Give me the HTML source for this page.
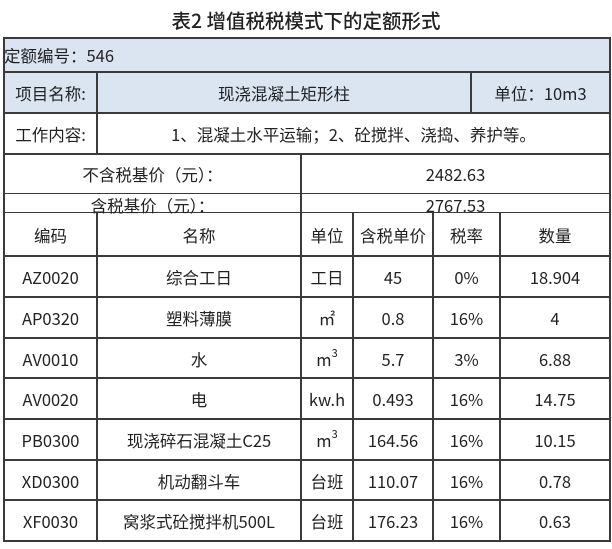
<!DOCTYPE html>
<html><head><meta charset="utf-8"><style>
body{margin:0;width:612px;height:549px;background:#fff;font-family:"Noto Sans CJK SC",sans-serif;color:#222;position:relative;overflow:hidden}
.t{position:absolute;top:6px;left:0;width:612px;text-align:center;font-size:19.5px;line-height:28px;font-weight:500}
.c{position:absolute;box-sizing:border-box;display:flex;align-items:center;justify-content:center;font-size:16.5px;line-height:20px;white-space:nowrap}
.l{position:absolute;background:#3a3a3a}
.s{font-size:11px;line-height:11px;position:relative;top:-6px}
</style></head><body>
<div class="t">表2 增值税税模式下的定额形式</div>
<div style="position:absolute;left:3px;top:37px;width:607px;height:75px;background:#dbe5f1"></div>
<div class="l" style="left:3px;top:37px;width:608px;height:2px"></div>
<div class="l" style="left:3px;top:71px;width:608px;height:2px"></div>
<div class="l" style="left:3px;top:112px;width:608px;height:2px"></div>
<div class="l" style="left:3px;top:153px;width:608px;height:2px"></div>
<div class="l" style="left:3px;top:193px;width:608px;height:1px"></div>
<div class="l" style="left:3px;top:212px;width:608px;height:1px"></div>
<div class="l" style="left:3px;top:255px;width:608px;height:2px"></div>
<div class="l" style="left:3px;top:296px;width:608px;height:2px"></div>
<div class="l" style="left:3px;top:337px;width:608px;height:2px"></div>
<div class="l" style="left:3px;top:377px;width:608px;height:2px"></div>
<div class="l" style="left:3px;top:418px;width:608px;height:2px"></div>
<div class="l" style="left:3px;top:459px;width:608px;height:2px"></div>
<div class="l" style="left:3px;top:499px;width:608px;height:2px"></div>
<div class="l" style="left:3px;top:540px;width:608px;height:2px"></div>
<div class="l" style="left:3px;top:37px;width:2px;height:505px"></div>
<div class="l" style="left:609px;top:37px;width:2px;height:505px"></div>
<div class="l" style="left:96px;top:71px;width:2px;height:82px"></div>
<div class="l" style="left:470px;top:71px;width:2px;height:41px"></div>
<div class="l" style="left:300px;top:153px;width:2px;height:389px"></div>
<div class="l" style="left:96px;top:212px;width:2px;height:330px"></div>
<div class="l" style="left:352px;top:212px;width:2px;height:330px"></div>
<div class="l" style="left:432px;top:212px;width:2px;height:330px"></div>
<div class="l" style="left:499px;top:212px;width:2px;height:330px"></div>
<div class="c" style="left:4px;top:38px;height:34px;justify-content:flex-start">定额编号：546</div>
<div class="c" style="left:4px;top:72px;width:93px;height:41px">项目名称:</div>
<div class="c" style="left:97px;top:72px;width:374px;height:41px">现浇混凝土矩形柱</div>
<div class="c" style="left:471px;top:72px;width:139px;height:41px">单位：10m3</div>
<div class="c" style="left:4px;top:113px;width:93px;height:41px">工作内容:</div>
<div class="c" style="left:97px;top:113px;width:513px;height:41px">1、混凝土水平运输；2、砼搅拌、浇捣、养护等。</div>
<div class="c" style="left:4px;top:154px;width:297px;height:40px">不含税基价（元）：</div>
<div class="c" style="left:301px;top:154px;width:309px;height:40px">2482.63</div>
<div class="c" style="left:4px;top:195px;width:297px;height:20px">含税基价（元）：</div>
<div class="c" style="left:301px;top:195px;width:309px;height:20px">2767.53</div>
<div class="c" style="left:4px;top:214px;width:93px;height:42px">编码</div>
<div class="c" style="left:97px;top:214px;width:204px;height:42px">名称</div>
<div class="c" style="left:301px;top:214px;width:52px;height:42px">单位</div>
<div class="c" style="left:353px;top:214px;width:80px;height:42px">含税单价</div>
<div class="c" style="left:433px;top:214px;width:67px;height:42px">税率</div>
<div class="c" style="left:500px;top:214px;width:110px;height:42px">数量</div>

<div class="c" style="left:4px;top:257px;width:93px;height:40px">AZ0020</div><div class="c" style="left:97px;top:257px;width:204px;height:40px">综合工日</div><div class="c" style="left:301px;top:257px;width:52px;height:40px">工日</div><div class="c" style="left:353px;top:257px;width:80px;height:40px">45</div><div class="c" style="left:433px;top:257px;width:67px;height:40px">0%</div><div class="c" style="left:500px;top:257px;width:110px;height:40px">18.904</div>
<div class="c" style="left:4px;top:298px;width:93px;height:40px">AP0320</div><div class="c" style="left:97px;top:298px;width:204px;height:40px">塑料薄膜</div><div class="c" style="left:301px;top:298px;width:52px;height:40px">㎡</div><div class="c" style="left:353px;top:298px;width:80px;height:40px">0.8</div><div class="c" style="left:433px;top:298px;width:67px;height:40px">16%</div><div class="c" style="left:500px;top:298px;width:110px;height:40px">4</div>
<div class="c" style="left:4px;top:339px;width:93px;height:40px">AV0010</div><div class="c" style="left:97px;top:339px;width:204px;height:40px">水</div><div class="c" style="left:301px;top:339px;width:52px;height:40px">m<span class="s">3</span></div><div class="c" style="left:353px;top:339px;width:80px;height:40px">5.7</div><div class="c" style="left:433px;top:339px;width:67px;height:40px">3%</div><div class="c" style="left:500px;top:339px;width:110px;height:40px">6.88</div>
<div class="c" style="left:4px;top:379px;width:93px;height:40px">AV0020</div><div class="c" style="left:97px;top:379px;width:204px;height:40px">电</div><div class="c" style="left:301px;top:379px;width:52px;height:40px">kw.h</div><div class="c" style="left:353px;top:379px;width:80px;height:40px">0.493</div><div class="c" style="left:433px;top:379px;width:67px;height:40px">16%</div><div class="c" style="left:500px;top:379px;width:110px;height:40px">14.75</div>
<div class="c" style="left:4px;top:420px;width:93px;height:40px">PB0300</div><div class="c" style="left:97px;top:420px;width:204px;height:40px">现浇碎石混凝土C25</div><div class="c" style="left:301px;top:420px;width:52px;height:40px">m<span class="s">3</span></div><div class="c" style="left:353px;top:420px;width:80px;height:40px">164.56</div><div class="c" style="left:433px;top:420px;width:67px;height:40px">16%</div><div class="c" style="left:500px;top:420px;width:110px;height:40px">10.15</div>
<div class="c" style="left:4px;top:461px;width:93px;height:40px">XD0300</div><div class="c" style="left:97px;top:461px;width:204px;height:40px">机动翻斗车</div><div class="c" style="left:301px;top:461px;width:52px;height:40px">台班</div><div class="c" style="left:353px;top:461px;width:80px;height:40px">110.07</div><div class="c" style="left:433px;top:461px;width:67px;height:40px">16%</div><div class="c" style="left:500px;top:461px;width:110px;height:40px">0.78</div>
<div class="c" style="left:4px;top:501px;width:93px;height:40px">XF0030</div><div class="c" style="left:97px;top:501px;width:204px;height:40px">窝浆式砼搅拌机500L</div><div class="c" style="left:301px;top:501px;width:52px;height:40px">台班</div><div class="c" style="left:353px;top:501px;width:80px;height:40px">176.23</div><div class="c" style="left:433px;top:501px;width:67px;height:40px">16%</div><div class="c" style="left:500px;top:501px;width:110px;height:40px">0.63</div>
</body></html>
